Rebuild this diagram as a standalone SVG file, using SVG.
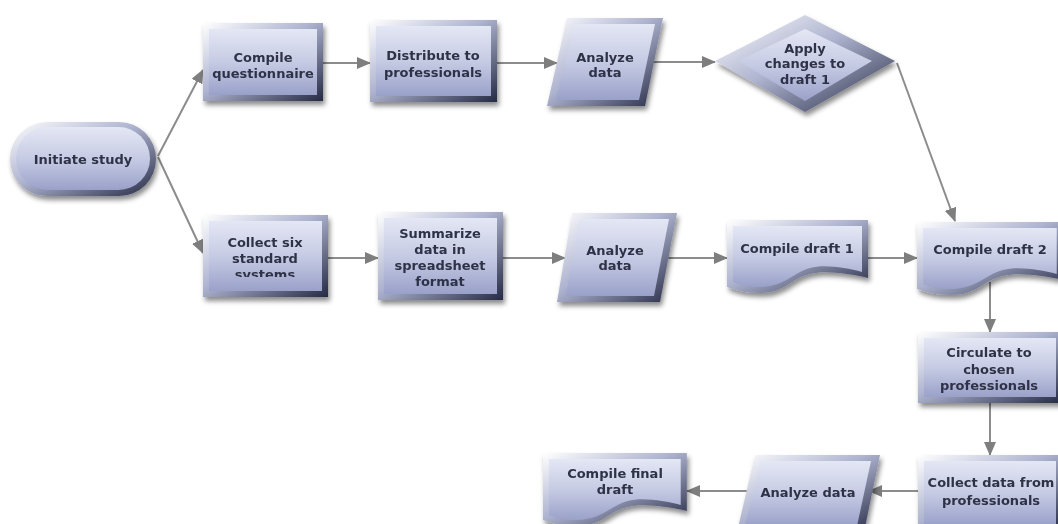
<svg xmlns="http://www.w3.org/2000/svg" width="1058" height="524" viewBox="0 0 1058 524">
  <defs>
    <linearGradient id="face" x1="0" y1="0" x2="0" y2="1">
      <stop offset="0" stop-color="#e4e7f4"/>
      <stop offset="0.5" stop-color="#c6cbe4"/>
      <stop offset="1" stop-color="#9aa1c9"/>
    </linearGradient>
    <linearGradient id="edge" x1="0" y1="0" x2="1" y2="1">
      <stop offset="0" stop-color="#ffffff"/>
      <stop offset="0.45" stop-color="#aeb3cf"/>
      <stop offset="1" stop-color="#252a44"/>
    </linearGradient>
    <filter id="shadow" x="-10%" y="-10%" width="125%" height="135%">
      <feDropShadow dx="2" dy="4" stdDeviation="2.5" flood-color="#000" flood-opacity="0.45"/>
    </filter>
    <marker id="arrow" markerUnits="userSpaceOnUse" markerWidth="14" markerHeight="12" refX="13" refY="6" orient="auto">
      <path d="M0,0 L14,6 L0,12 Z" fill="#7e7e7e"/>
    </marker>
    <clipPath id="clipCollectSix">
      <rect x="203" y="215" width="125" height="62"/>
    </clipPath>
    <!-- document shape with wavy bottom, local coordinates -->
    <path id="docOuter" d="M0,0 H141 V58 C123,54 98,50 83,54 C63,59 58,73 33,73 C18,73 8,70 0,67 Z"/>
    <path id="docInner" d="M6,6 H135 V52 C119,48 98,44 83,48 C65,53 59,66 34,67 C20,67 12,65 6,62 Z"/>
  </defs>
  <style>
    .edge { fill: url(#edge); }
    .face { fill: url(#face); }
    .shape { filter: url(#shadow); }
    .label { font-family: "DejaVu Sans", Verdana, sans-serif; font-weight: bold; font-size: 13px; fill: #2f3347; text-anchor: middle; }
    .conn { stroke: #8c8c8c; stroke-width: 2; fill: none; marker-end: url(#arrow); }
  </style>

  <rect width="1058" height="524" fill="#ffffff"/>

  <g id="connectors">
    <line class="conn" x1="158" y1="156" x2="203" y2="70"/>
    <line class="conn" x1="158" y1="157" x2="203" y2="253"/>
    <line class="conn" x1="323" y1="63" x2="370" y2="63"/>
    <line class="conn" x1="497" y1="63" x2="557" y2="63"/>
    <line class="conn" x1="652" y1="62" x2="715" y2="62"/>
    <line class="conn" x1="897" y1="63" x2="955" y2="221"/>
    <line class="conn" x1="328" y1="258" x2="378" y2="258"/>
    <line class="conn" x1="503" y1="258" x2="565" y2="258"/>
    <line class="conn" x1="668" y1="258" x2="727" y2="258"/>
    <line class="conn" x1="868" y1="258" x2="917" y2="258"/>
    <line class="conn" x1="990" y1="282" x2="990" y2="332"/>
    <line class="conn" x1="990" y1="403" x2="990" y2="455"/>
    <line class="conn" x1="918" y1="491" x2="869" y2="491"/>
    <line class="conn" x1="750" y1="491" x2="687" y2="491"/>
  </g>

  <g id="initiate-study" class="shape">
    <rect class="edge" x="10" y="122" width="146" height="74" rx="37"/>
    <rect class="face" x="16" y="127" width="134" height="63" rx="31.5"/>
    <text class="label" x="83" y="164">Initiate study</text>
  </g>

  <g id="compile-questionnaire" class="shape">
    <rect class="edge" x="203" y="23" width="120" height="78"/>
    <rect class="face" x="209" y="29" width="108" height="66"/>
    <text class="label" x="263" y="62">Compile</text>
    <text class="label" x="263" y="78">questionnaire</text>
  </g>

  <g id="distribute" class="shape">
    <rect class="edge" x="370" y="20" width="127" height="82"/>
    <rect class="face" x="376" y="26" width="115" height="70"/>
    <text class="label" x="433" y="60">Distribute to</text>
    <text class="label" x="433" y="77">professionals</text>
  </g>

  <g id="analyze-data-1" class="shape">
    <polygon class="edge" points="567,18 663,18 645,106 547,106"/>
    <polygon class="face" points="574,24 655,24 639,100 556,100"/>
    <text class="label" x="605" y="62">Analyze</text>
    <text class="label" x="605" y="77">data</text>
  </g>

  <g id="apply-changes" class="shape">
    <polygon class="edge" points="715,61 805,15 895,61 805,112"/>
    <polygon class="face" points="738,61 805,29 872,61 805,101"/>
    <text class="label" x="805" y="53">Apply</text>
    <text class="label" x="805" y="68">changes to</text>
    <text class="label" x="805" y="84">draft 1</text>
  </g>

  <g id="collect-six" class="shape">
    <rect class="edge" x="203" y="215" width="125" height="82"/>
    <rect class="face" x="209" y="221" width="113" height="70"/>
    <text class="label" x="265" y="247">Collect six</text>
    <text class="label" x="265" y="263">standard</text>
    <text class="label" x="265" y="279" clip-path="url(#clipCollectSix)">systems</text>
  </g>

  <g id="summarize" class="shape">
    <rect class="edge" x="378" y="212" width="125" height="88"/>
    <rect class="face" x="384" y="218" width="113" height="76"/>
    <text class="label" x="440" y="238">Summarize</text>
    <text class="label" x="440" y="254">data in</text>
    <text class="label" x="440" y="270">spreadsheet</text>
    <text class="label" x="440" y="286">format</text>
  </g>

  <g id="analyze-data-2" class="shape">
    <polygon class="edge" points="572,213 677,213 660,302 557,302"/>
    <polygon class="face" points="579,219 669,219 654,296 566,296"/>
    <text class="label" x="615" y="255">Analyze</text>
    <text class="label" x="615" y="270">data</text>
  </g>

  <g id="compile-draft-1" class="shape">
    <use href="#docOuter" class="edge" transform="translate(727,220)"/>
    <use href="#docInner" class="face" transform="translate(727,220)"/>
    <text class="label" x="797" y="253">Compile draft 1</text>
  </g>

  <g id="compile-draft-2" class="shape">
    <use href="#docOuter" class="edge" transform="translate(917,222) scale(1.035,1)"/>
    <use href="#docInner" class="face" transform="translate(917,222) scale(1.035,1)"/>
    <text class="label" x="990" y="254">Compile draft 2</text>
  </g>

  <g id="circulate" class="shape">
    <rect class="edge" x="918" y="332" width="144" height="71"/>
    <rect class="face" x="924" y="338" width="132" height="59"/>
    <text class="label" x="989" y="357">Circulate to</text>
    <text class="label" x="989" y="374">chosen</text>
    <text class="label" x="989" y="390">professionals</text>
  </g>

  <g id="collect-data" class="shape">
    <rect class="edge" x="918" y="455" width="144" height="76"/>
    <rect class="face" x="924" y="461" width="132" height="64"/>
    <text class="label" x="991" y="487">Collect data from</text>
    <text class="label" x="991" y="505">professionals</text>
  </g>

  <g id="analyze-data-3" class="shape">
    <polygon class="edge" points="755,455 880,455 864,532 737,532"/>
    <polygon class="face" points="761,461 871,461 857,526 745,526"/>
    <text class="label" x="808" y="497">Analyze data</text>
  </g>

  <g id="compile-final" class="shape">
    <use href="#docOuter" class="edge" transform="translate(543,453) scale(1.02,1)"/>
    <use href="#docInner" class="face" transform="translate(543,453) scale(1.02,1)"/>
    <text class="label" x="615" y="478">Compile final</text>
    <text class="label" x="615" y="494">draft</text>
  </g>
</svg>
